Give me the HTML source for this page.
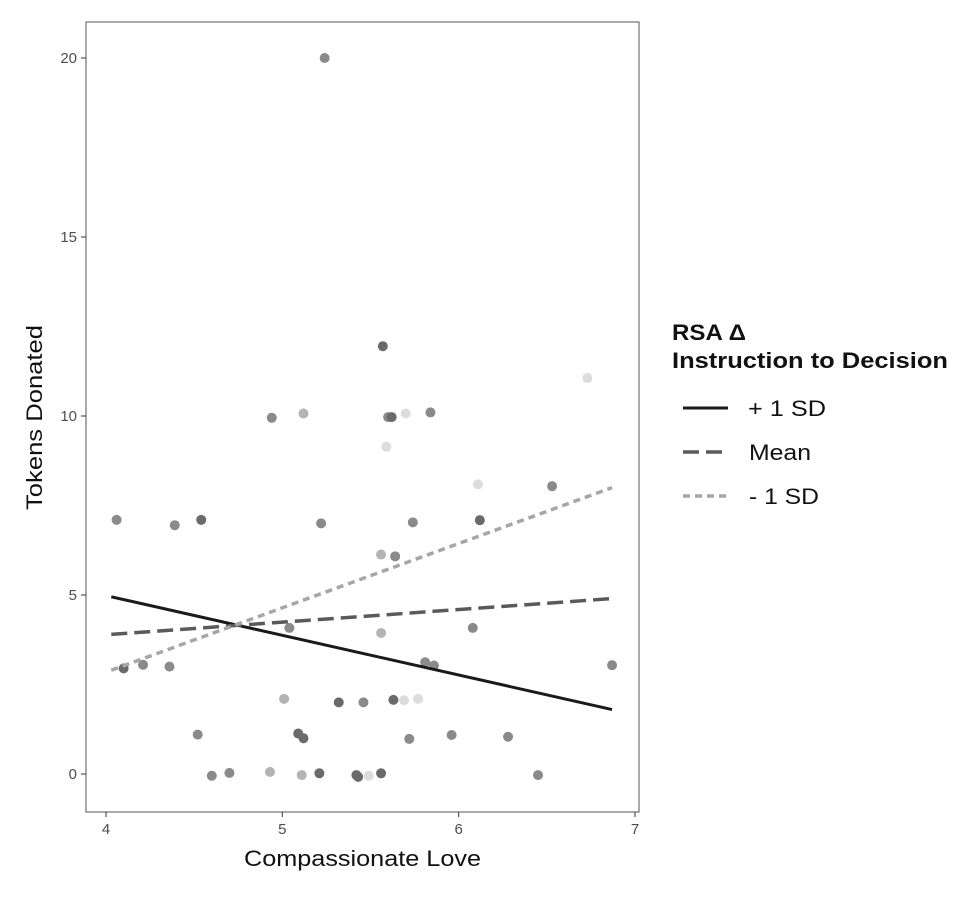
<!DOCTYPE html>
<html><head><meta charset="utf-8"><style>
body{margin:0;background:#fff;}
svg text{font-family:"Liberation Sans",Arial,sans-serif;}
</style></head><body>
<svg id="chart" width="974" height="899" viewBox="0 0 974 899" xmlns="http://www.w3.org/2000/svg">
<rect x="86" y="22" width="553" height="790" fill="#fff" stroke="#555" stroke-width="1"/>
<g id="points"></g>
<g id="lines"></g>
<g id="axes"></g>
<text x="244" y="866" font-size="22" textLength="237" lengthAdjust="spacingAndGlyphs" fill="#111">Compassionate Love</text>
<text transform="translate(42,510) rotate(-90)" font-size="22" textLength="185" lengthAdjust="spacingAndGlyphs" fill="#111">Tokens Donated</text>
<g>
<text x="672" y="340" font-size="22" font-weight="bold" textLength="74" lengthAdjust="spacingAndGlyphs" fill="#111">RSA Δ</text>
<text x="672" y="368" font-size="22" font-weight="bold" textLength="276" lengthAdjust="spacingAndGlyphs" fill="#111">Instruction to Decision</text>
<line x1="683" y1="408" x2="728" y2="408" stroke="#1a1a1a" stroke-width="3"/>
<text x="748" y="416" font-size="22" textLength="78" lengthAdjust="spacingAndGlyphs" fill="#111">+ 1 SD</text>
<line x1="683" y1="452" x2="728" y2="452" stroke="#5a5a5a" stroke-width="3.5" stroke-dasharray="16,7"/>
<text x="749" y="460" font-size="22" textLength="62" lengthAdjust="spacingAndGlyphs" fill="#111">Mean</text>
<line x1="683" y1="496" x2="728" y2="496" stroke="#a6a6a6" stroke-width="3.5" stroke-dasharray="7,5"/>
<text x="749" y="504" font-size="22" textLength="70" lengthAdjust="spacingAndGlyphs" fill="#111">- 1 SD</text>
</g>
</svg>
<script>
const xTicks=[4,5,6,7];
const yTicks=[0,5,10,15,20];
const ptX=[4.06,4.10,4.21,4.36,4.39,4.54,4.52,4.60,4.70,4.93,4.94,5.01,5.04,5.09,5.12,5.11,5.12,5.21,5.22,5.24,5.32,5.42,5.43,5.46,5.49,5.56,5.56,5.56,5.57,5.59,5.60,5.62,5.63,5.64,5.69,5.70,5.72,5.74,5.77,5.81,5.86,5.84,5.96,6.08,6.11,6.12,6.28,6.45,6.53,6.73,6.87];
const ptY=[7.1,2.95,3.05,3.0,6.95,7.1,1.1,-0.05,0.03,0.06,9.95,2.1,4.08,1.13,10.07,-0.03,1.0,0.02,7.0,20,2.0,-0.03,-0.08,2.0,-0.05,0.02,6.13,3.94,11.95,9.14,9.97,9.97,2.07,6.08,2.06,10.07,0.98,7.03,2.1,3.12,3.03,10.1,1.09,4.08,8.09,7.09,1.04,-0.03,8.04,11.06,3.04];
const ptShade=[1,2,1,1,1,2,1,1,1,0,1,0,1,2,0,0,2,2,1,1,2,2,2,1,-1,2,0,0,2,-1,1,2,2,1,-1,-1,1,1,-1,1,1,1,1,1,-1,2,1,1,1,-1,1];
const lineNames=["plus-1sd","mean","minus-1sd"];
const lineX0=[4.03,4.03,4.03];
const lineX1=[6.87,6.87,6.87];
const lineY0=[4.95,3.9,2.9];
const lineY1=[1.8,4.9,8.0];
const NS="http://www.w3.org/2000/svg";
const sx=v=>106+(v-4)*(635-106)/3;
const sy=v=>774-v*(774-58)/20;
const shadeCol={"-1":"#dcdcdc","0":"#b4b4b4","1":"#8a8a8a","2":"#6a6a6a"};
const pg=document.getElementById('points');
for(let i=0;i<ptX.length;i++){
 const c=document.createElementNS(NS,'circle');
 c.setAttribute('cx',sx(ptX[i]));c.setAttribute('cy',sy(ptY[i]));c.setAttribute('r',5);
 c.setAttribute('fill',shadeCol[ptShade[i]]);
 
 
 pg.appendChild(c);
}
const lg=document.getElementById('lines');
const lstroke=["#1a1a1a","#5a5a5a","#a6a6a6"];
const ldash=["none","16,7","7,5"];
for(let i=0;i<lineNames.length;i++){
 const l=document.createElementNS(NS,'line');
 l.setAttribute('x1',sx(lineX0[i]));l.setAttribute('y1',sy(lineY0[i]));
 l.setAttribute('x2',sx(lineX1[i]));l.setAttribute('y2',sy(lineY1[i]));
 l.setAttribute('stroke',lstroke[i]);l.setAttribute('stroke-width',i==0?3:3.5);
 l.setAttribute('stroke-dasharray',ldash[i]);
 
 
 lg.appendChild(l);
}
const ag=document.getElementById('axes');
xTicks.forEach(t=>{
 const l=document.createElementNS(NS,'line');
 l.setAttribute('x1',sx(t));l.setAttribute('x2',sx(t));l.setAttribute('y1',812);l.setAttribute('y2',817);l.setAttribute('stroke','#333');
 
 
 ag.appendChild(l);
 const tx=document.createElementNS(NS,'text');
 tx.setAttribute('x',sx(t));tx.setAttribute('y',834);tx.setAttribute('font-size',15);tx.setAttribute('fill','#4d4d4d');tx.setAttribute('text-anchor','middle');
 tx.textContent=t;
 
 
 ag.appendChild(tx);
});
yTicks.forEach(t=>{
 const l=document.createElementNS(NS,'line');
 l.setAttribute('x1',81);l.setAttribute('x2',86);l.setAttribute('y1',sy(t));l.setAttribute('y2',sy(t));l.setAttribute('stroke','#333');
 
 
 ag.appendChild(l);
 const tx=document.createElementNS(NS,'text');
 tx.setAttribute('x',77);tx.setAttribute('y',sy(t)+5);tx.setAttribute('font-size',15);tx.setAttribute('fill','#4d4d4d');tx.setAttribute('text-anchor','end');
 tx.textContent=t;
 
 
 ag.appendChild(tx);
});
</script>
</body></html>
